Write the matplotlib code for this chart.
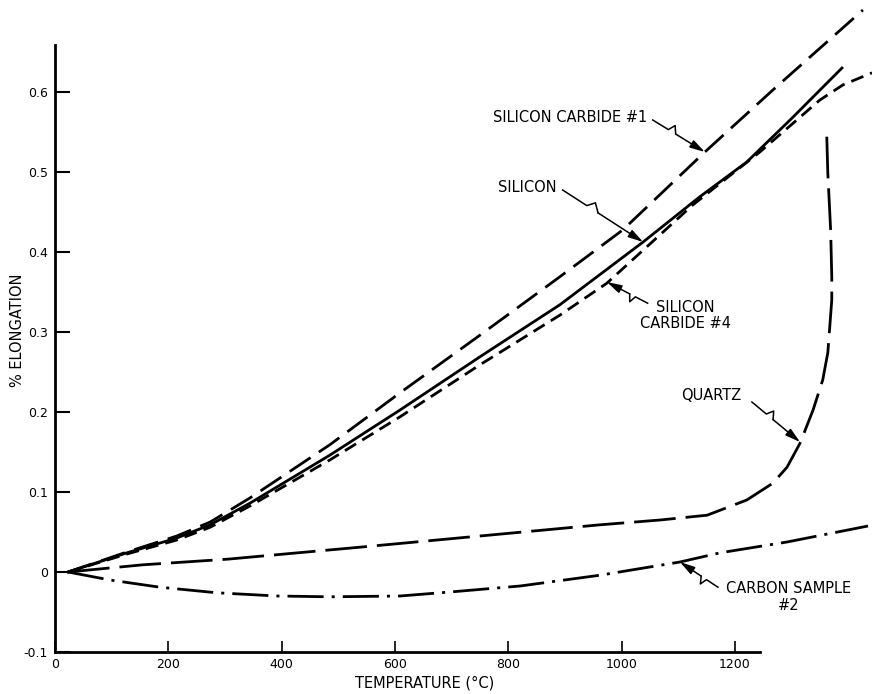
import numpy as np
import matplotlib
matplotlib.use('Agg')
import matplotlib.pyplot as plt

# % elongation vs temperature (deg C)
sic1_t = [23, 127, 215, 274, 344, 485, 609, 750, 891, 1002, 1147, 1267, 1426]
sic1_e = [0, 0.025, 0.045, 0.0625, 0.0925, 0.159, 0.224, 0.296, 0.369, 0.4275, 0.525, 0.6025, 0.7025]

si_t = [23, 127, 215, 274, 344, 485, 609, 750, 891, 1038, 1138, 1221, 1301, 1389]
si_e = [0, 0.024, 0.0425, 0.059, 0.086, 0.146, 0.2025, 0.269, 0.334, 0.4125, 0.469, 0.5125, 0.5675, 0.63]

sic4_t = [23, 127, 215, 274, 344, 485, 609, 750, 891, 974, 1126, 1244, 1350, 1391, 1442]
sic4_e = [0, 0.0225, 0.04, 0.056, 0.0825, 0.14, 0.194, 0.259, 0.321, 0.361, 0.459, 0.525, 0.59, 0.609, 0.624]

quartz_t = [23, 155, 304, 538, 962, 1068, 1151, 1221, 1267, 1292, 1315, 1338, 1355, 1364, 1371, 1371, 1369, 1364, 1362]
quartz_e = [0, 0.009, 0.016, 0.031, 0.059, 0.065, 0.071, 0.09, 0.111, 0.131, 0.161, 0.2025, 0.24, 0.274, 0.34, 0.369, 0.4275, 0.499, 0.549]

carbon_t = [23, 97, 185, 286, 392, 485, 609, 697, 821, 962, 1103, 1174, 1292, 1435]
carbon_e = [0, -0.01, -0.019, -0.026, -0.030, -0.031, -0.030, -0.025, -0.0175, -0.004, 0.0125, 0.024, 0.0375, 0.0575]

xticks = [0, 200, 400, 600, 800, 1000, 1200]
yticks = [-0.1, 0, 0.1, 0.2, 0.3, 0.4, 0.5, 0.6]
ylabels = ['-0.1', '0', '0.1', '0.2', '0.3', '0.4', '0.5', '0.6']

W, H = 872, 694
fig = plt.figure(figsize=(W / 100, H / 100), dpi=100)
ax = fig.add_axes([55 / W, 42 / H, 817 / W, 652 / H])
ax.set_xlim(0, 1442)
ax.set_ylim(-0.1, 0.715)

lw = 2
ax.plot(sic1_t, sic1_e, color='k', lw=lw, linestyle=(0, (9, 3.6)), clip_on=False)
ax.plot(si_t, si_e, color='k', lw=lw, clip_on=False)
ax.plot(sic4_t, sic4_e, color='k', lw=lw, linestyle=(0, (4.7, 2.6)), clip_on=False)
ax.plot(quartz_t, quartz_e, color='k', lw=lw, linestyle=(0, (15, 3.6)), clip_on=False)
ax.plot(carbon_t, carbon_e, color='k', lw=lw, linestyle=(0, (13, 2.9, 1.1, 2.9)), clip_on=False)

# axes: only left and bottom, drawn short like the original
for s in ['top', 'right']:
    ax.spines[s].set_visible(False)
ax.spines['left'].set_bounds(-0.1, 0.659)
ax.spines['bottom'].set_bounds(0, 1244)
for s in ['left', 'bottom']:
    ax.spines[s].set_linewidth(2)

ax.set_xticks(xticks)
ax.set_xticklabels([str(t) for t in xticks])
ax.set_yticks(yticks)
ax.set_yticklabels(ylabels)
ax.tick_params(axis='y', direction='in', length=11, width=1.5, labelsize=9, pad=5)
ax.tick_params(axis='x', direction='in', length=8, width=1.2, labelsize=9, pad=4)

fig.text(18 / W, 1 - 330 / H, '% ELONGATION', rotation=90, ha='center', va='center', fontsize=10.5)
fig.text(425 / W, 1 - 683 / H, 'TEMPERATURE (°C)', ha='center', va='center', fontsize=10.5)


def leader(start, tip):
    # straight leader with a little zig-zag, ending in a filled arrow head
    t = ax.transData
    p0 = t.transform(start)
    p3 = t.transform(tip)
    v = p3 - p0
    u = v / np.hypot(*v)
    n = np.array([-u[1], u[0]])
    pts = np.array([p0, p0 + 0.30 * v, p0 + 0.36 * v + 7 * n, p0 + 0.44 * v])
    d = t.inverted().transform(pts)
    ax.plot(d[:, 0], d[:, 1], color='k', lw=1.1, clip_on=False)
    ax.annotate('', xy=tip, xytext=tuple(d[-1]),
                arrowprops=dict(arrowstyle='-|>,head_length=0.9,head_width=0.25',
                                color='k', lw=1.1, shrinkA=0, shrinkB=0),
                annotation_clip=False)


fs = 10.5
ax.text(1046, 0.5675, 'SILICON CARBIDE #1', ha='right', va='center', fontsize=fs)
leader((1055, 0.565), (1147, 0.525))

ax.text(886, 0.48, 'SILICON', ha='right', va='center', fontsize=fs)
leader((896, 0.4775), (1038, 0.4125))

ax.text(1113, 0.321, 'SILICON\nCARBIDE #4', ha='center', va='center', fontsize=fs, linespacing=1.05)
leader((1046, 0.336), (974, 0.3625))

ax.text(1158, 0.221, 'QUARTZ', ha='center', va='center', fontsize=fs)
leader((1230, 0.2125), (1315, 0.1625))

ax.text(1295, -0.031, 'CARBON SAMPLE\n#2', ha='center', va='center', fontsize=fs, linespacing=1.15)
leader((1170, -0.019), (1103, 0.0125))

fig.savefig('out.png', dpi=100)
